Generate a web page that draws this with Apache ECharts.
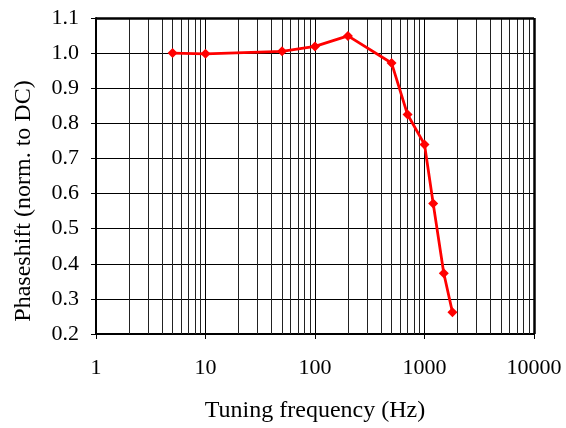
<!DOCTYPE html>
<html>
<head>
<meta charset="utf-8">
<script src="https://cdn.jsdelivr.net/npm/echarts@6/dist/echarts.min.js"></script>
<style>
html,body{margin:0;padding:0;background:#fff;}
#chart{width:566px;height:428px;}
</style>
</head>
<body>
<div id="chart"></div>
<script>
//调谐频率 (Hz)
var freqs = [5, 10, 50, 100, 200, 500, 700, 1000, 1200, 1500, 1800];
//相移（归一化到DC）
var phase = [1.000, 0.998, 1.005, 1.019, 1.049, 0.972, 0.825, 0.740, 0.572, 0.373, 0.262];
//对数轴次网格线
var minorLines = [2,3,4,5,6,7,8,9,20,30,40,50,60,70,80,90,200,300,400,500,600,700,800,900,2000,3000,4000,5000,6000,7000,8000,9000];

var font = 'Liberation Serif, Times New Roman, serif';
var points = freqs.map(function(f, i){ return [f, phase[i]]; });

var chart = echarts.init(document.getElementById('chart'));
chart.setOption({
	animation: false,
	grid: {left: 96, right: 32, top: 18, bottom: 94, containLabel: false},
	xAxis: {
		type: 'log', logBase: 10, min: 1, max: 10000,
		name: 'Tuning frequency (Hz)', nameLocation: 'middle', nameGap: 65,
		nameTextStyle: {fontFamily: font, fontSize: 24, color: '#000'},
		axisLine: {lineStyle: {color: '#000', width: 2}},
		axisTick: {show: true, inside: false, length: 5, lineStyle: {color: '#000'}},
		axisLabel: {fontFamily: font, fontSize: 22, color: '#000', margin: 23,
			formatter: function(v){ return String(Math.round(v)); }},
		splitLine: {show: true, lineStyle: {color: '#000', width: 1}},
		minorTick: {show: false}, minorSplitLine: {show: false}
	},
	yAxis: {
		type: 'value', min: 0.2, max: 1.1, interval: 0.1,
		name: 'Phaseshift (norm. to DC)', nameLocation: 'middle', nameGap: 60,
		nameTextStyle: {fontFamily: font, fontSize: 24, color: '#000', padding: [0, 50, 0, 0]},
		axisLine: {show: true, lineStyle: {color: '#000', width: 2}},
		axisTick: {show: true, inside: false, length: 5, lineStyle: {color: '#000'}},
		axisLabel: {fontFamily: font, fontSize: 22, color: '#000', margin: 17,
			formatter: function(v){ return v.toFixed(1); }},
		splitLine: {show: true, lineStyle: {color: '#000', width: 1}}
	},
	series: [{
		type: 'line',
		data: points,
		symbol: 'diamond', symbolSize: 10,
		itemStyle: {color: '#ff0000'},
		lineStyle: {color: '#ff0000', width: 2.8},
		z: 5,
		markLine: {
			silent: true, symbol: 'none', label: {show: false},
			lineStyle: {color: '#222', width: 1, type: 'solid'},
			data: minorLines.map(function(v){ return {xAxis: v}; }),
			z: 1
		}
	}, {
		//图框
		type: 'line', data: [], silent: true,
		markLine: {
			silent: true, symbol: 'none', label: {show: false},
			lineStyle: {color: '#000', width: 2.5, type: 'solid'},
			data: [{yAxis: 1.1}, {xAxis: 10000}]
		}
	}]
});
</script>
</body>
</html>
